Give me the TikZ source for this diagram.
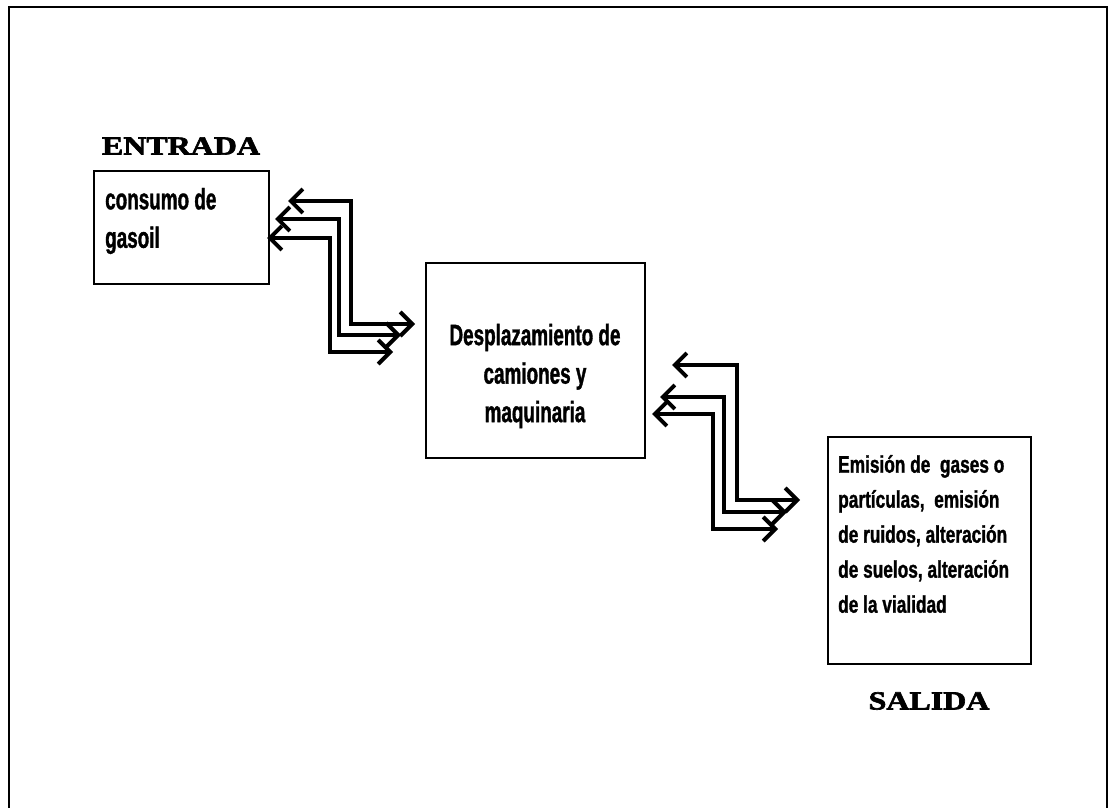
\documentclass[tikz,border=0pt]{standalone}
\usepackage{fontspec}
\usetikzlibrary{arrows.meta}
\newfontfamily\condA[FakeStretch=0.64,FakeBold=1.2]{Liberation Sans}
\newfontfamily\condB[FakeStretch=0.72,FakeBold=1.2]{Liberation Sans}
\newfontfamily\widefont[FakeStretch=1.23,FakeBold=2.5]{Liberation Serif}
\tikzset{
  box/.style={draw, line width=2pt, inner sep=0pt},
  title/.style={font=\widefont\bfseries\fontsize{26}{30}\selectfont, inner sep=0pt},
  boxtext/.style={font=\condA\bfseries\fontsize{29.5}{38.5}\selectfont, inner sep=0pt},
  smalltext/.style={font=\condB\bfseries\fontsize{24}{35}\selectfont, inner sep=0pt},
  dbl/.style={line width=4pt, {Straight Barb[length=12pt,width=24pt]}-{Straight Barb[length=12pt,width=24pt]}}
}
\begin{document}
\begin{tikzpicture}[x=1pt,y=-1pt]
\useasboundingbox (0,0) rectangle (1109,808);
\draw[line width=2.5pt] (9,810) -- (9,7) -- (1107,7) -- (1107,810);
% boxes
\node[box, minimum width=175pt, minimum height=113pt, anchor=north west] (in) at (93,170) {};
\node[box, minimum width=219pt, minimum height=195pt, anchor=north west] (mid) at (425,262) {};
\node[box, minimum width=203pt, minimum height=227pt, anchor=north west] (out) at (827,436) {};
% titles
\node[title] (entrada) at (181,146) {ENTRADA};
\node[title] (salida) at (929,701) {SALIDA};
% texts
\node[boxtext, align=left, anchor=west] (t1) at (105,221) {consumo de\\gasoil};
\node[boxtext, align=center] (t2) at (535,376) {Desplazamiento de\\camiones y\\maquinaria};
\node[smalltext, align=left, anchor=west] (t3) at (838,534) {Emisión de~ gases o\\partículas,~ emisión\\de ruidos, alteración\\de suelos, alteración\\de la vialidad};
% arrows group 1
\coordinate (a1l) at (288,201); \coordinate (a1m) at (351,324); \coordinate (a1r) at (415,324);
\coordinate (b1l) at (275,219); \coordinate (b1m) at (339,335); \coordinate (b1r) at (401,335);
\coordinate (c1l) at (267,238); \coordinate (c1m) at (330,352); \coordinate (c1r) at (393,352);
\draw[dbl] (a1l) -| (a1m) -- (a1r);
\draw[dbl] (b1l) -| (b1m) -- (b1r);
\draw[dbl] (c1l) -| (c1m) -- (c1r);
% arrows group 2
\coordinate (a2l) at (672,365); \coordinate (a2m) at (737,500); \coordinate (a2r) at (800,500);
\coordinate (b2l) at (660,397); \coordinate (b2m) at (724,512); \coordinate (b2r) at (787,512);
\coordinate (c2l) at (652,414); \coordinate (c2m) at (713,529); \coordinate (c2r) at (778,529);
\draw[dbl] (a2l) -| (a2m) -- (a2r);
\draw[dbl] (b2l) -| (b2m) -- (b2r);
\draw[dbl] (c2l) -| (c2m) -- (c2r);
\end{tikzpicture}
\end{document}
